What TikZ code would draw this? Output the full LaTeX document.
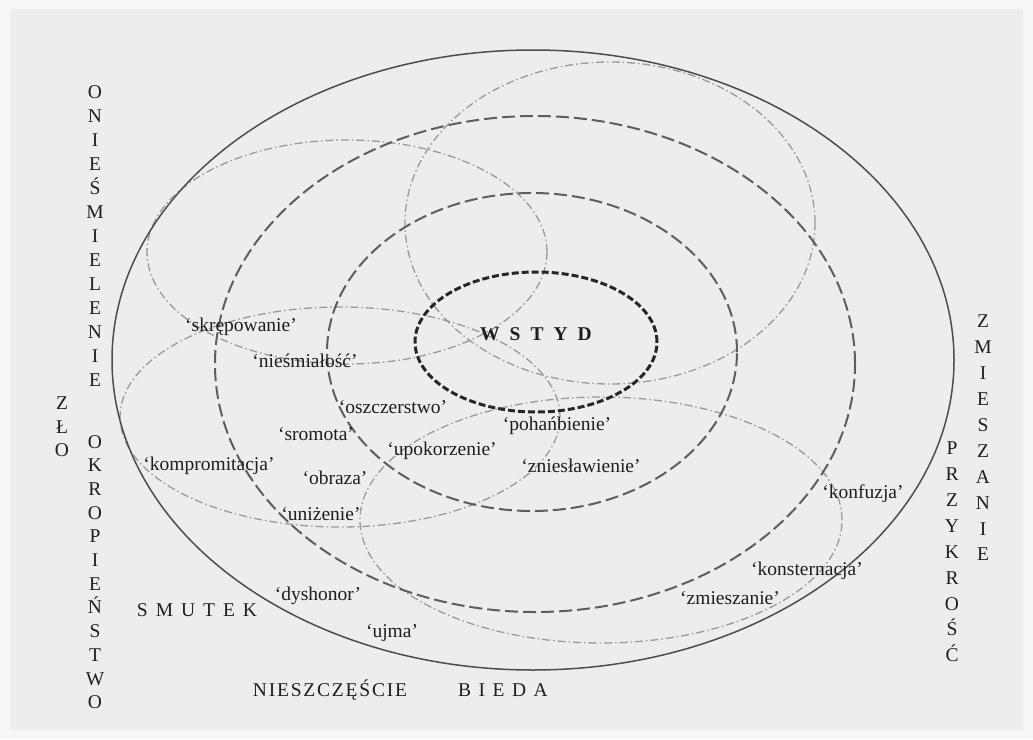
\documentclass[tikz,border=0pt]{standalone}
\usepackage{fontspec}
\setmainfont{Liberation Serif}
\definecolor{bgin}{HTML}{EDEDED}
\definecolor{bgout}{HTML}{F7F7F7}
\definecolor{solidc}{HTML}{4D4D4D}
\definecolor{dashc}{HTML}{5E5E5E}
\definecolor{corec}{HTML}{262626}
\definecolor{dotc}{HTML}{9A9A9A}
\definecolor{txt}{HTML}{1E1E1E}
\begin{document}
\begin{tikzpicture}[x=1pt,y=-1pt,
  outerline/.style={draw=solidc, line width=1.5pt},
  dashline/.style={draw=dashc, line width=2pt, dash pattern=on 13pt off 5pt},
  coreline/.style={draw=corec, line width=3pt, dash pattern=on 7pt off 3pt},
  dotline/.style={draw=dotc, line width=1.3pt, dash pattern=on 8pt off 3pt on 1.5pt off 3pt},
  lbl/.style={font=\fontsize{19.5}{22}\selectfont, text=txt, inner sep=0pt},
  vertl/.style={font=\fontsize{19.5}{24}\selectfont, text=txt, inner sep=0pt, align=center},
  vertr/.style={font=\fontsize{19.5}{25.9}\selectfont, text=txt, inner sep=0pt, align=center},
]
\fill[bgout] (0,0) rectangle (1033,739);
\fill[bgin] (10,9) rectangle (1023,730);
\useasboundingbox (0,0) rectangle (1033,739);

% dash-dot ellipses
\draw[dotline] (347,252) ellipse [x radius=200pt, y radius=112pt];
\draw[dotline] (340,417) ellipse [x radius=220pt, y radius=110pt];
\draw[dotline] (610,223) ellipse [x radius=205pt, y radius=161pt];
\draw[dotline] (601,520) ellipse [x radius=241pt, y radius=123pt];

% dashed ellipses
\draw[dashline] (535,364) ellipse [x radius=320pt, y radius=248pt];
\draw[dashline] (532,352) ellipse [x radius=205pt, y radius=159pt];
\draw[coreline] (536,342) ellipse [x radius=121pt, y radius=70pt];

% outer ellipse
\draw[outerline] (533,360) ellipse [x radius=421pt, y radius=310pt];

% centre
\node[lbl, font=\fontsize{19.5}{22}\selectfont\bfseries] (wstyd) at (536,334)
  {W\hspace{10pt}S\hspace{10pt}T\hspace{10pt}Y\hspace{10pt}D};

% labels
\node[lbl] (skrepowanie) at (241,327) {‘skrępowanie’};
\node[lbl] (niesmialosc) at (305,361) {‘nieśmiałość’};
\node[lbl] (oszczerstwo) at (393,407) {‘oszczerstwo’};
\node[lbl] (sromota) at (316,434) {‘sromota’};
\node[lbl] (upokorzenie) at (442,451) {‘upokorzenie’};
\node[lbl] (kompromitacja) at (209,466) {‘kompromitacja’};
\node[lbl] (obraza) at (335,478) {‘obraza’};
\node[lbl] (unizenie) at (321,514) {‘uniżenie’};
\node[lbl] (pohanbienie) at (557,426) {‘pohańbienie’};
\node[lbl] (znieslawienie) at (581,466) {‘zniesławienie’};
\node[lbl] (konfuzja) at (863,494) {‘konfuzja’};
\node[lbl] (konsternacja) at (807,571) {‘konsternacja’};
\node[lbl] (zmieszanie2) at (730,598) {‘zmieszanie’};
\node[lbl] (dyshonor) at (318,596) {‘dyshonor’};
\node[lbl] (ujma) at (392,633) {‘ujma’};

% outside words
\node[lbl] (smutek) at (197,610)
  {S\hspace{8pt}M\hspace{8pt}U\hspace{8pt}T\hspace{8pt}E\hspace{8pt}K};
\node[lbl] (nieszczescie) at (330,690)
  {N\hspace{1.8pt}I\hspace{1.8pt}E\hspace{1.8pt}S\hspace{1.8pt}Z\hspace{1.8pt}C\hspace{1.8pt}Z\hspace{1.8pt}Ę\hspace{1.8pt}Ś\hspace{1.8pt}C\hspace{1.8pt}I\hspace{1.8pt}E};
\node[lbl] (bieda) at (503,690)
  {B\hspace{7.5pt}I\hspace{7.5pt}E\hspace{7.5pt}D\hspace{7.5pt}A};

\node[vertl] (oniesmielenie) at (95,236) {O\\N\\I\\E\\Ś\\M\\I\\E\\L\\E\\N\\I\\E};
\node[vertl, font=\fontsize{19.5}{23.5}\selectfont] (zlo) at (62,427) {Z\\Ł\\O};
\node[vertl, font=\fontsize{19.5}{23.7}\selectfont] (okropienstwo) at (95,572) {O\\K\\R\\O\\P\\I\\E\\Ń\\S\\T\\W\\O};
\node[vertr] (zmieszanie) at (983,438) {Z\\M\\I\\E\\S\\Z\\A\\N\\I\\E};
\node[vertr] (przykrosc) at (952,552) {P\\R\\Z\\Y\\K\\R\\O\\Ś\\Ć};
\end{tikzpicture}
\end{document}
